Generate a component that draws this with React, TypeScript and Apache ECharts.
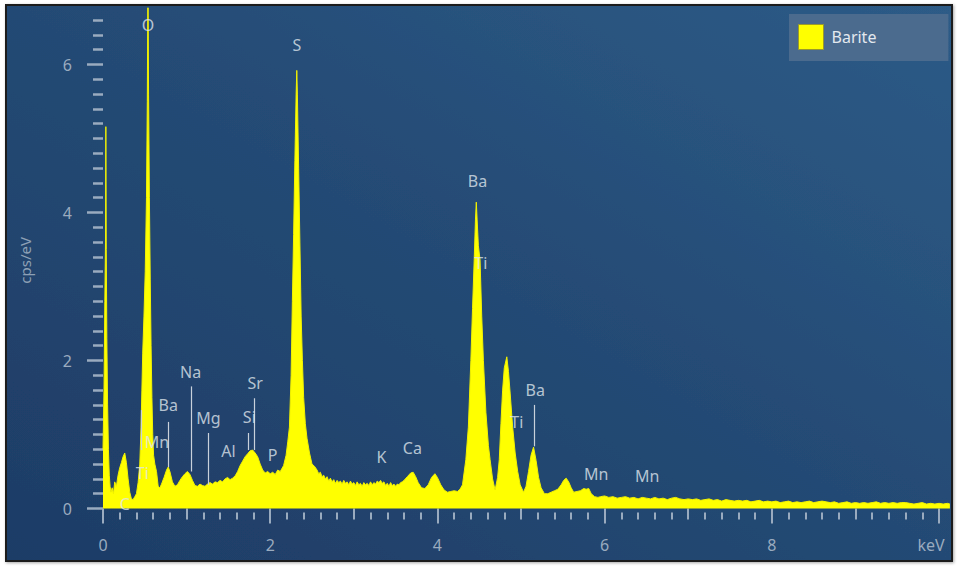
import React, { useEffect, useRef } from "react";
import * as echarts from "echarts";

// ---- spectrum data: [keV, cps/eV] ----
const spectrumLow: [number, number][] = [
  [0.0, 0.8], [0.012, 1.6], [0.022, 2.8], [0.03, 3.6], [0.034, 5.16], [0.039, 3.5],
  [0.046, 2.3], [0.055, 1.4], [0.065, 0.8], [0.075, 0.45], [0.085, 0.3], [0.095, 0.22],
  [0.11, 0.28], [0.125, 0.2], [0.14, 0.36], [0.16, 0.3], [0.18, 0.45], [0.2, 0.55],
  [0.22, 0.62], [0.24, 0.7], [0.26, 0.75], [0.28, 0.62], [0.3, 0.4], [0.32, 0.22],
  [0.34, 0.13], [0.36, 0.12], [0.38, 0.16], [0.4, 0.2], [0.42, 0.35], [0.44, 0.6],
  [0.455, 1.1], [0.465, 1.6], [0.475, 2.1], [0.49, 2.6], [0.505, 3.2], [0.52, 4.2],
  [0.53, 5.5], [0.538, 7.3], [0.545, 5.6], [0.555, 4.2], [0.565, 3.1], [0.575, 2.2],
  [0.585, 1.5], [0.595, 1.0], [0.605, 0.72], [0.62, 0.6], [0.64, 0.5], [0.66, 0.3],
  [0.68, 0.28], [0.7, 0.33], [0.73, 0.42], [0.76, 0.52], [0.78, 0.56], [0.8, 0.5],
  [0.83, 0.36], [0.86, 0.3], [0.89, 0.32], [0.92, 0.38], [0.95, 0.43], [0.98, 0.47],
  [1.01, 0.5], [1.04, 0.46], [1.07, 0.38], [1.1, 0.31], [1.13, 0.3], [1.16, 0.33],
  [1.19, 0.31], [1.22, 0.3], [1.25, 0.33], [1.28, 0.35], [1.31, 0.33], [1.34, 0.36],
  [1.37, 0.35], [1.4, 0.38], [1.43, 0.36], [1.46, 0.4], [1.49, 0.42], [1.52, 0.39],
  [1.55, 0.41], [1.58, 0.44], [1.61, 0.5], [1.64, 0.58], [1.67, 0.64], [1.7, 0.7],
  [1.73, 0.74], [1.76, 0.78], [1.79, 0.79], [1.82, 0.75], [1.85, 0.7], [1.88, 0.6],
  [1.91, 0.52], [1.94, 0.48], [1.97, 0.5], [2.0, 0.47], [2.03, 0.49], [2.06, 0.46],
  [2.09, 0.52], [2.12, 0.5], [2.16, 0.58], [2.19, 0.72], [2.21, 0.9], [2.23, 1.1],
  [2.25, 1.8], [2.265, 2.8], [2.28, 3.7], [2.295, 4.7], [2.31, 5.6], [2.318, 5.92],
  [2.325, 5.6], [2.34, 4.6], [2.355, 3.6], [2.37, 2.6], [2.385, 2.0], [2.4, 1.5],
  [2.42, 1.15], [2.44, 0.95], [2.47, 0.75], [2.5, 0.6], [2.53, 0.57],
];

const spectrumMid: [number, number][] = [
  [2.56, 0.52], [2.58, 0.47], [2.6, 0.49], [2.62, 0.43], [2.64, 0.45], [2.66, 0.4],
  [2.68, 0.43], [2.7, 0.37], [2.72, 0.41], [2.74, 0.36], [2.76, 0.39], [2.78, 0.34],
  [2.8, 0.38], [2.82, 0.35], [2.84, 0.37], [2.86, 0.33], [2.88, 0.38], [2.9, 0.34],
  [2.92, 0.36], [2.94, 0.32], [2.96, 0.37], [2.98, 0.33], [3.0, 0.35], [3.02, 0.31],
  [3.04, 0.36], [3.06, 0.32], [3.08, 0.34], [3.1, 0.3], [3.12, 0.35], [3.14, 0.32],
  [3.16, 0.34], [3.18, 0.31], [3.2, 0.36], [3.22, 0.32], [3.24, 0.35], [3.26, 0.33],
  [3.28, 0.37], [3.3, 0.35], [3.32, 0.38], [3.34, 0.34], [3.36, 0.36], [3.38, 0.31],
  [3.4, 0.34], [3.42, 0.3], [3.44, 0.35], [3.46, 0.31], [3.48, 0.33], [3.5, 0.3],
  [3.52, 0.33], [3.54, 0.32], [3.56, 0.35], [3.58, 0.36], [3.6, 0.38], [3.64, 0.43],
  [3.68, 0.48], [3.71, 0.49], [3.74, 0.43], [3.77, 0.35], [3.81, 0.28], [3.85, 0.27],
  [3.89, 0.32], [3.93, 0.42], [3.97, 0.47], [4.0, 0.42], [4.04, 0.32], [4.08, 0.25],
  [4.12, 0.22], [4.16, 0.23], [4.2, 0.24], [4.24, 0.23], [4.27, 0.26], [4.3, 0.32],
  [4.34, 0.66], [4.37, 1.1], [4.4, 2.0], [4.42, 2.7], [4.44, 3.36], [4.455, 3.9],
  [4.465, 4.14], [4.475, 3.9], [4.49, 3.55], [4.51, 3.36], [4.53, 2.6], [4.55, 2.0],
  [4.58, 1.3], [4.61, 0.85], [4.63, 0.66], [4.66, 0.4], [4.69, 0.25], [4.72, 0.42],
  [4.74, 0.66], [4.76, 1.15], [4.78, 1.6], [4.8, 1.9], [4.83, 2.05], [4.85, 1.85],
  [4.87, 1.56], [4.9, 1.1], [4.93, 0.75], [4.96, 0.5], [4.99, 0.32], [5.03, 0.22],
  [5.06, 0.3], [5.09, 0.5], [5.12, 0.72], [5.15, 0.83], [5.18, 0.65], [5.21, 0.42],
  [5.24, 0.28], [5.28, 0.2], [5.32, 0.2], [5.36, 0.22], [5.4, 0.24], [5.44, 0.26],
  [5.48, 0.32], [5.51, 0.38], [5.54, 0.41], [5.57, 0.36], [5.6, 0.28], [5.63, 0.22],
  [5.67, 0.23], [5.71, 0.24], [5.75, 0.27], [5.78, 0.26], [5.81, 0.27], [5.84, 0.2],
  [5.88, 0.16], [5.92, 0.15],
];

const spectrumHigh: [number, number][] = [
  [5.95, 0.16], [6.0, 0.17], [6.05, 0.15], [6.1, 0.16], [6.15, 0.14], [6.2, 0.15],
  [6.25, 0.16], [6.3, 0.14], [6.35, 0.15], [6.4, 0.13], [6.45, 0.15], [6.5, 0.14],
  [6.55, 0.13], [6.6, 0.15], [6.65, 0.13], [6.7, 0.14], [6.75, 0.12], [6.8, 0.14],
  [6.85, 0.15], [6.9, 0.13], [6.95, 0.12], [7.0, 0.13], [7.05, 0.12], [7.1, 0.13],
  [7.15, 0.11], [7.2, 0.12], [7.25, 0.13], [7.3, 0.11], [7.35, 0.12], [7.4, 0.1],
  [7.45, 0.12], [7.5, 0.11], [7.55, 0.1], [7.6, 0.11], [7.65, 0.1], [7.7, 0.11],
  [7.75, 0.09], [7.8, 0.1], [7.85, 0.11], [7.9, 0.09], [7.95, 0.1], [8.0, 0.09],
  [8.05, 0.1], [8.1, 0.08], [8.15, 0.09], [8.2, 0.1], [8.25, 0.08], [8.3, 0.09],
  [8.35, 0.08], [8.4, 0.09], [8.45, 0.1], [8.5, 0.08], [8.55, 0.09], [8.6, 0.1],
  [8.65, 0.09], [8.7, 0.08], [8.75, 0.09], [8.8, 0.07], [8.85, 0.08], [8.9, 0.09],
  [8.95, 0.07], [9.0, 0.08], [9.05, 0.07], [9.1, 0.08], [9.15, 0.07], [9.2, 0.08],
  [9.25, 0.09], [9.3, 0.07], [9.35, 0.08], [9.4, 0.07], [9.45, 0.08], [9.5, 0.07],
  [9.55, 0.08], [9.6, 0.08], [9.65, 0.07], [9.7, 0.06], [9.75, 0.07], [9.8, 0.08],
  [9.85, 0.06], [9.9, 0.07], [9.95, 0.06], [10.0, 0.07], [10.05, 0.06], [10.1, 0.07],
  [10.13, 0.06],
];

// ---- element labels ----
const elementNames = ["O", "S", "Ba", "Ti", "Ti", "Ba", "K", "Ca", "Na", "Ba", "Mg", "Al", "Si", "Sr", "P", "Mn", "Ti", "Mn", "Mn", "C"];
const elementKeV = [0.538, 2.32, 4.48, 4.52, 4.95, 5.17, 3.33, 3.7, 1.047, 0.78, 1.26, 1.5, 1.75, 1.82, 2.03, 0.646, 0.47, 5.9, 6.51, 0.26];
const elementLabelY = [6.53, 6.27, 4.43, 3.32, 1.17, 1.6, 0.69, 0.82, 1.85, 1.4, 1.22, 0.78, 1.23, 1.69, 0.72, 0.9, 0.48, 0.47, 0.44, 0.06];

// ---- element marker lines ----
const markerKeV = [5.155, 1.053, 0.78, 1.26, 1.74, 1.81, 0.463];
const markerTop = [1.4, 1.65, 1.17, 1.02, 1.02, 1.49, 1.33];
const markerBottom = [0.84, 0.5, 0.56, 0.32, 0.79, 0.79, 0.79];

// ---- axes ----
const xMin = -0.1316; // leaves the gap between the cps/eV ticks and the 0 keV edge
const xMax = 10.13;
const yMin = -0.054; // leaves the gap between the spectrum base and the keV ticks
const yMax = 6.76;
const xMajorTicks = [0, 2, 4, 6, 8, 10];
const xMidTicks = [1, 3, 5, 7, 9];
const yMajorTicks = [0, 2, 4, 6];

const xMinorTicks: number[] = [];
for (let i = 1; i < 50; i++) if (i % 5 !== 0) xMinorTicks.push(Math.round(i * 2) / 10);
const yMinorTicks: number[] = [];
for (let i = 1; i < 34; i++) if (i % 10 !== 0) yMinorTicks.push(Math.round(i * 2) / 10);

const FONT = "Noto Sans";
const AXIS_COLOR = "#9aabbf";

export default function App() {
  const ref = useRef<HTMLDivElement>(null);
  useEffect(() => {
    if (!ref.current) return;
    const chart = echarts.init(ref.current, undefined, { renderer: "svg" });
    const spectrum = [...spectrumLow, ...spectrumMid, ...spectrumHigh];

    const xBase = {
      type: "value" as const,
      min: xMin,
      max: xMax,
      position: "bottom" as const,
      axisLine: { show: false },
      splitLine: { show: false },
    };
    const yBase = {
      type: "value" as const,
      min: yMin,
      max: yMax,
      position: "left" as const,
      axisLine: { show: false },
      splitLine: { show: false },
    };

    chart.setOption({
      animation: false,
      backgroundColor: "#ffffff",
      textStyle: { fontFamily: FONT },
      graphic: [
        {
          type: "rect",
          z: -10,
          silent: true,
          shape: { x: 6, y: 5, width: 946, height: 556 },
          style: {
            fill: new echarts.graphic.LinearGradient(1, 0, 0, 1, [
              { offset: 0, color: "#2d5b87" },
              { offset: 0.5, color: "#244a74" },
              { offset: 1, color: "#1e3c66" },
            ]),
            stroke: "#1c1c1c",
            lineWidth: 2,
            shadowColor: "rgba(0,0,0,0.35)",
            shadowBlur: 3,
            shadowOffsetX: 1,
            shadowOffsetY: 1,
          },
        },
      ],
      grid: { left: 92, right: 10.1, top: 8.26, bottom: 57.5 },
      legend: {
        data: ["Barite"],
        left: 789,
        top: 14,
        icon: "rect",
        itemWidth: 25,
        itemHeight: 25,
        padding: [10, 72, 11, 9],
        backgroundColor: "#4b6b8e",
        itemStyle: { borderColor: "#9a9a2a", borderWidth: 1 },
        textStyle: { color: "#e3e8ee", fontSize: 16, fontFamily: FONT, padding: [0, 0, 0, 3] },
        selectedMode: false,
      },
      xAxis: [
        {
          ...xBase,
          axisTick: { show: true, customValues: xMajorTicks, length: 15, lineStyle: { color: AXIS_COLOR, width: 2 } },
          axisLabel: {
            show: true,
            customValues: xMajorTicks,
            margin: 24,
            color: AXIS_COLOR,
            fontSize: 16,
            fontFamily: FONT,
            formatter: (v: number) => (v === 10 ? "{u|keV}" : String(v)),
            rich: { u: { color: AXIS_COLOR, fontSize: 16, fontFamily: FONT, padding: [0, 16, 0, 0] } },
          },
        },
        {
          ...xBase,
          axisTick: { show: true, customValues: xMidTicks, length: 11, lineStyle: { color: AXIS_COLOR, width: 2 } },
          axisLabel: { show: false },
        },
        {
          ...xBase,
          axisTick: { show: true, customValues: xMinorTicks, length: 7, lineStyle: { color: AXIS_COLOR, width: 2 } },
          axisLabel: { show: false },
        },
      ],
      yAxis: [
        {
          ...yBase,
          name: "cps/eV",
          nameLocation: "middle",
          nameGap: 60,
          nameTextStyle: { color: "#8da0b5", fontSize: 15, fontFamily: FONT },
          axisTick: { show: true, customValues: yMajorTicks, length: 16, lineStyle: { color: AXIS_COLOR, width: 2.5 } },
          axisLabel: { show: true, customValues: yMajorTicks, margin: 20, color: AXIS_COLOR, fontSize: 16, fontFamily: FONT },
        },
        {
          ...yBase,
          axisTick: { show: true, customValues: yMinorTicks, length: 10, lineStyle: { color: AXIS_COLOR, width: 2.5 } },
          axisLabel: { show: false },
        },
      ],
      series: [
        {
          name: "Barite",
          type: "line",
          xAxisIndex: 0,
          yAxisIndex: 0,
          data: spectrum,
          symbol: "none",
          showSymbol: false,
          clip: true,
          itemStyle: { color: "#ffff00" },
          lineStyle: { color: "#f2f200", width: 1 },
          areaStyle: { color: "#ffff00", opacity: 1 },
          z: 2,
        },
        {
          name: "elements",
          type: "scatter",
          xAxisIndex: 0,
          yAxisIndex: 0,
          symbolSize: 1,
          silent: true,
          itemStyle: { color: "rgba(0,0,0,0)" },
          z: 10,
          label: {
            show: true,
            position: "inside",
            formatter: (p: any) => p.name,
            color: "#dfe5ec",
            fontSize: 16,
            fontFamily: FONT,
          },
          labelLayout: { hideOverlap: false },
          data: elementNames.map((n, i) => ({ name: n, value: [elementKeV[i], elementLabelY[i]] })),
          markLine: {
            silent: true,
            symbol: ["none", "none"],
            label: { show: false },
            lineStyle: { color: "#c9d1db", width: 1.2, type: "solid" },
            data: markerKeV.map((k, i) => [
              { coord: [k, markerTop[i]] },
              { coord: [k, markerBottom[i]] },
            ]),
          },
        },
      ],
    });
    return () => chart.dispose();
  }, []);

  return (
    <div
      ref={ref}
      style={{ position: "fixed", left: 0, top: 0, width: 960, height: 570, background: "#ffffff" }}
    />
  );
}
